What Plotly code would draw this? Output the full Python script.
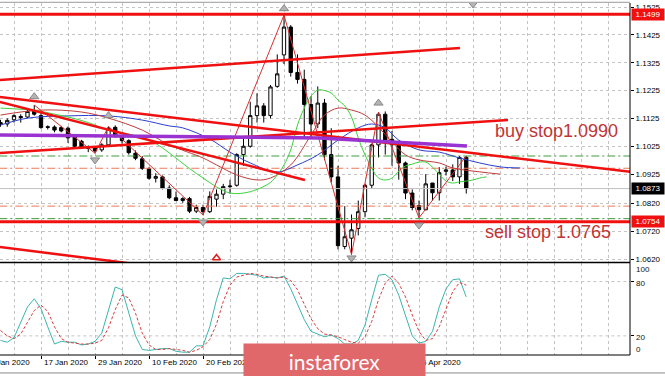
import plotly.graph_objects as go
import pandas as pd

# ---------------- data ----------------
dates = pd.bdate_range("2020-01-09", "2020-04-15")
bar_idx = list(range(len(dates)))

opens = [1.1110, 1.1105, 1.1120, 1.1132, 1.1130, 1.1152, 1.1135, 1.1095, 1.1094, 1.1092,
         1.1090, 1.1060, 1.1043, 1.1022, 1.1020, 1.1012, 1.1030, 1.1093, 1.1062, 1.1045,
         1.1000, 1.0980, 1.0945, 1.0910, 1.0915, 1.0875, 1.0840, 1.0830, 1.0837, 1.0792,
         1.0805, 1.0790, 1.0835, 1.0853, 1.0880, 1.0885, 1.0995, 1.1025, 1.1135, 1.1170,
         1.1135, 1.1240, 1.1353, 1.1453, 1.1290, 1.1265, 1.1175, 1.1105, 1.1180, 1.0995,
         1.0915, 1.0665, 1.0695, 1.0730, 1.0790, 1.0885, 1.1030, 1.1140, 1.1050, 1.1030,
         1.0965, 1.0857, 1.0812, 1.0797, 1.0893, 1.0858, 1.0935, 1.0940, 1.0915, 1.0985]
highs = [1.1120, 1.1125, 1.1140, 1.1140, 1.1160, 1.1173, 1.1145, 1.1100, 1.1100, 1.1098,
         1.1096, 1.1065, 1.1048, 1.1028, 1.1025, 1.1036, 1.1096, 1.1100, 1.1065, 1.1050,
         1.1010, 1.0990, 1.0950, 1.0928, 1.0920, 1.0885, 1.0862, 1.0842, 1.0843, 1.0815,
         1.0815, 1.0863, 1.0870, 1.0890, 1.0905, 1.1000, 1.1055, 1.1185, 1.1215, 1.1180,
         1.1245, 1.1355, 1.1496, 1.1460, 1.1355, 1.1300, 1.1205, 1.1240, 1.1195, 1.1090,
         1.0955, 1.0810, 1.0780, 1.0830, 1.0890, 1.1035, 1.1148, 1.1150, 1.1080, 1.1045,
         1.0970, 1.0870, 1.0830, 1.0925, 1.0893, 1.0950, 1.0952, 1.0960, 1.0990, 1.0990]
lows = [1.1095, 1.1095, 1.1110, 1.1110, 1.1125, 1.1135, 1.1088, 1.1085, 1.1075, 1.1075,
        1.1037, 1.1020, 1.1017, 1.1004, 1.1000, 1.1005, 1.1025, 1.1055, 1.1035, 1.0995,
        1.0975, 1.0940, 1.0905, 1.0895, 1.0870, 1.0835, 1.0828, 1.0822, 1.0785, 1.0785,
        1.0778, 1.0785, 1.0808, 1.0835, 1.0855, 1.0880, 1.0955, 1.1020, 1.1110, 1.1110,
        1.1125, 1.1235, 1.1320, 1.1275, 1.1250, 1.1055, 1.1055, 1.1090, 1.0975, 1.0895,
        1.0655, 1.0655, 1.0636, 1.0705, 1.0770, 1.0875, 1.0985, 1.0995, 1.0955, 1.0905,
        1.0835, 1.0795, 1.0768, 1.0795, 1.0830, 1.0830, 1.0920, 1.0900, 1.0890, 1.0855]
closes = [1.1105, 1.1118, 1.1135, 1.1128, 1.1150, 1.1140, 1.1092, 1.1093, 1.1083, 1.1080,
          1.1055, 1.1025, 1.1022, 1.1018, 1.1008, 1.1030, 1.1090, 1.1065, 1.1045, 1.1002,
          1.0982, 1.0945, 1.0910, 1.0916, 1.0875, 1.0840, 1.0830, 1.0837, 1.0792, 1.0805,
          1.0790, 1.0845, 1.0853, 1.0880, 1.0882, 1.0995, 1.1025, 1.1135, 1.1170, 1.1135,
          1.1238, 1.1285, 1.1453, 1.1290, 1.1265, 1.1175, 1.1105, 1.1180, 1.0995, 1.0915,
          1.0668, 1.0700, 1.0725, 1.0790, 1.0885, 1.1030, 1.1140, 1.1045, 1.1030, 1.0965,
          1.0857, 1.0805, 1.0797, 1.0890, 1.0858, 1.0930, 1.0940, 1.0915, 1.0985, 1.0873]

# Alligator-style moving averages (bar index, price)
jaw_x = [0, 4, 10, 16, 21, 25, 27, 31, 34, 37, 41, 44, 47, 50, 53, 55, 57, 59, 62, 65, 68, 71, 74, 77]
jaw_p = [1.1101, 1.1126, 1.1134, 1.1134, 1.1119, 1.1098, 1.1091, 1.1051, 1.1004, 1.0965, 1.0933, 1.0958,
         1.0994, 1.1047, 1.1091, 1.1105, 1.1091, 1.1047, 1.1012, 1.1004, 1.0983, 1.0965, 1.0951, 1.0947]
teeth_x = [0, 6, 12, 16, 21, 25, 30, 32, 35, 38, 40, 43, 46, 48, 50, 52, 54, 56, 58, 60, 62, 65, 67, 71, 74]
teeth_p = [1.1137, 1.1155, 1.1148, 1.1126, 1.1083, 1.1030, 1.0983, 1.0958, 1.0922, 1.0904, 1.0911, 1.0958,
           1.1065, 1.1137, 1.1162, 1.1155, 1.1137, 1.1094, 1.1040, 1.0994, 1.0976, 1.0965, 1.0947, 1.0933, 1.0925]
lips_x = [0, 3, 5, 8, 10, 13, 16, 19, 21, 23, 25, 28, 30, 32, 34, 36, 38, 40, 41, 42,
          43, 44, 45, 46, 47, 48, 49, 50, 51, 52, 53, 54, 55, 56, 57, 58, 59, 60, 61, 62,
          63, 64, 65, 66, 67, 68, 69, 70, 71, 72]
lips_p = [1.1162, 1.1158, 1.1155, 1.1140, 1.1130, 1.1110, 1.1083, 1.1068, 1.1058, 1.1035,
          1.1001, 1.0945, 1.0911, 1.0879, 1.0857, 1.0857, 1.0870, 1.0895, 1.0922, 1.0958,
          1.1012, 1.1101, 1.1162, 1.1205, 1.1227, 1.1225, 1.1216, 1.1191, 1.1170, 1.1130,
          1.1055, 1.0994, 1.0947, 1.0911, 1.0904, 1.0911, 1.0936, 1.0954, 1.0961, 1.0968,
          1.0968, 1.0950, 1.0925, 1.0900, 1.0893, 1.0897, 1.0900, 1.0904, 1.0911, 1.0915]

# ZigZag
zz_x = [5, 14, 16, 30, 42, 52, 56, 62, 69]
zz_p = [1.1173, 1.1000, 1.1096, 1.0778, 1.1496, 1.0636, 1.1148, 1.0768, 1.0990]

# Fractals
frac_up_x = [5, 16, 42, 56]
frac_up_p = [1.1203, 1.1135, 1.1519, 1.1180]
frac_dn_x = [14, 30, 52, 62]
frac_dn_p = [1.0976, 1.0753, 1.0624, 1.0742]

# Trend lines (bar index, price)
rise_top_x = [-0.1, 68.07]
rise_top_p = [1.1263, 1.1378]
rise_mid_x = [-0.1, 75.19]
rise_mid_p = [1.1001, 1.1119]
fall_long_x = [-0.1, 93.3]
fall_long_p = [1.1202, 1.0933]
fall_steep_x = [-0.1, 45.1]
fall_steep_p = [1.1184, 1.0904]
fall_low_x = [-0.1, 20.7]
fall_low_p = [1.0663, 1.0600]
purple_x = [-0.1, 32.5, 47.3, 55.2, 65.1, 69.1]
purple_p = [1.1065, 1.1058, 1.1055, 1.1044, 1.1030, 1.1026]

# Horizontal levels
red_levels = [1.1499, 1.0754]
green_levels = [1.0990, 1.0765]
orange_levels = [1.0946, 1.0810]
last_price = 1.0873

# Stochastic
stoch_k = [15, 13, 18, 35, 52, 61, 50, 30, 11, 14, 13, 13, 10, 11, 14, 23, 50, 74, 71, 45,
           20, 5, 4, 5, 6, 6, 3, 2, 2, 9, 9, 30, 60, 84, 83, 89, 89, 88, 87, 84,
           85, 84, 86, 72, 55, 38, 25, 22, 19, 21, 17, 11, 11, 15, 32, 60, 87, 88, 82, 65,
           43, 20, 12, 14, 25, 52, 72, 82, 83, 63]
stoch_d = [26, 20, 17, 22, 35, 48, 54, 47, 30, 17, 13, 12, 11, 11, 12, 15, 29, 49, 65, 62,
           45, 23, 10, 5, 5, 6, 5, 4, 2, 4, 8, 16, 33, 58, 76, 85, 87, 89, 88, 86,
           85, 84, 85, 81, 71, 55, 39, 28, 22, 21, 19, 16, 13, 12, 19, 36, 60, 78, 86, 78,
           63, 43, 25, 15, 17, 30, 50, 69, 79, 76]
stoch_levels = [80, 20]
stoch_scale_text = ["100", "80", "20", "0"]

price_ticks = [1.1525, 1.1425, 1.1325, 1.1225, 1.1125, 1.1025, 1.0925, 1.0820, 1.0720, 1.0620]
price_tick_text = ["1.1525", "1.1425", "1.1325", "1.1225", "1.1125", "1.1025", "1.0925", "1.0820", "1.0720", "1.0620"]
# date labels visible on the chart (the ones in between are covered by the watermark)
date_label_idx = [6, 14, 22, 30, 62]
date_label_text = [f"{dates[i].day} {dates[i].strftime('%b %Y')}" for i in date_label_idx]
first_label_text = "7 Jan 2020"   # two bars before the first visible bar

# ---------------- figure ----------------
X0, X1 = -0.074, 93.26
BAR_PX = 6.75
FULL_X = [X0 - 0.1, X1 + 0.1]
GRID = "#c4c4c4"
FONT = "Liberation Sans"

fig = go.Figure()

def line(x, y, color, width, dash=None, shape="linear", ax="y"):
    fig.add_trace(go.Scatter(x=x, y=y, mode="lines", yaxis=ax, xaxis="x" if ax == "y" else "x2",
                             line=dict(color=color, width=width, dash=dash, shape=shape),
                             hoverinfo="skip", showlegend=False))

# horizontal levels
line(FULL_X, [last_price] * 2, "#c0c0c0", 1)
for lv in green_levels:
    line(FULL_X, [lv] * 2, "#3c9a3c", 1, dash="8px,3px,2px,3px")
for lv in orange_levels:
    line(FULL_X, [lv] * 2, "#ec7a5a", 1, dash="8px,3px,2px,3px")

# candles
fig.add_trace(go.Candlestick(
    x=bar_idx, open=opens, high=highs, low=lows, close=closes,
    increasing=dict(fillcolor="white", line=dict(color="black", width=1)),
    decreasing=dict(fillcolor="black", line=dict(color="black", width=1)),
    whiskerwidth=0, hoverinfo="skip", showlegend=False, xaxis="x", yaxis="y"))

# alligator
line(jaw_x, jaw_p, "#2a3fd0", 1, shape="spline")
line(teeth_x, teeth_p, "#c03c3c", 1, shape="spline")
line(lips_x, lips_p, "#3ad23a", 1, shape="spline")

# zigzag
line(zz_x, zz_p, "#d83030", 1)

# trend lines
for xs, ps in [(rise_top_x, rise_top_p), (rise_mid_x, rise_mid_p), (fall_long_x, fall_long_p),
               (fall_steep_x, fall_steep_p), (fall_low_x, fall_low_p)]:
    line(xs, ps, "#f01010", 2.5)
line(purple_x, purple_p, "#9a32d2", 3.5)
for lv in red_levels:
    line(FULL_X, [lv] * 2, "#f01010", 3)

# fractal markers
fig.add_trace(go.Scatter(x=frac_up_x, y=frac_up_p, mode="markers", xaxis="x", yaxis="y",
                         marker=dict(symbol="triangle-up", size=8, color="#b4b4b4", line=dict(color="#888888", width=1)),
                         hoverinfo="skip", showlegend=False))
fig.add_trace(go.Scatter(x=frac_dn_x + [70], y=frac_dn_p + [1.1536], mode="markers", xaxis="x", yaxis="y",
                         marker=dict(symbol="triangle-down", size=8, color="#b4b4b4", line=dict(color="#888888", width=1)),
                         hoverinfo="skip", showlegend=False))
fig.add_trace(go.Scatter(x=[32], y=[1.0624], mode="markers", xaxis="x", yaxis="y",
                         marker=dict(symbol="triangle-up-open", size=7, color="#e02020", line=dict(width=1.5)),
                         hoverinfo="skip", showlegend=False))

# stochastic levels + lines
for lv in stoch_levels:
    line(FULL_X, [lv] * 2, GRID, 1, dash="3px,3px", ax="y2")
fig.add_trace(go.Scatter(x=bar_idx, y=stoch_k, mode="lines", xaxis="x2", yaxis="y2",
                         line=dict(color="#3cb4b0", width=1), hoverinfo="skip", showlegend=False))
fig.add_trace(go.Scatter(x=bar_idx, y=stoch_d, mode="lines", xaxis="x2", yaxis="y2",
                         line=dict(color="#d83c3c", width=1, dash="3px,2px"), hoverinfo="skip", showlegend=False))

grid_pos = list(range(2, 94, 4))
MAIN_BOT = (355 - 262) / 352
STO_TOP = (355 - 263) / 352
# where MT4 prints its stochastic scale captions (screen rows 269, 283, 337, 349)
stoch_caption_y = [(355 - r) / 352 for r in (269, 283, 337, 349)]

fig.update_layout(
    width=665, height=376, margin=dict(l=0, r=35, t=3, b=21),
    paper_bgcolor="white", plot_bgcolor="white", showlegend=False,
    font=dict(family=FONT, size=8, color="black"),
    xaxis=dict(domain=[0, 1], anchor="y", range=[X0, X1], tickvals=grid_pos, showticklabels=False,
               showgrid=True, gridcolor=GRID, griddash="3px,3px", gridwidth=1, zeroline=False,
               ticks="", rangeslider=dict(visible=False)),
    yaxis=dict(domain=[MAIN_BOT, 1], anchor="x", range=[1.06094, 1.15394], side="right",
               tickvals=price_ticks, ticktext=price_tick_text, showgrid=True, gridcolor=GRID,
               griddash="3px,3px", zeroline=False, ticks="outside", ticklen=3, tickcolor="black",
               tickfont=dict(size=8, family=FONT, color="black")),
    xaxis2=dict(domain=[0, 1], anchor="y2", matches="x", range=[X0, X1],
                tickvals=date_label_idx, showticklabels=False, ticks="outside", ticklen=3,
                tickcolor="black", showgrid=True, gridcolor=GRID, griddash="3px,3px", zeroline=False,
                minor=dict(tickvals=[g for g in grid_pos if g not in date_label_idx], showgrid=True,
                           gridcolor=GRID, griddash="3px,3px", ticks="")),
    yaxis2=dict(domain=[0, STO_TOP], anchor="x2", range=[-1.1, 100.5], side="right",
                tickvals=stoch_levels, showticklabels=False, showgrid=False,
                zeroline=False, ticks="outside", ticklen=3, tickcolor="black"),
)

shapes = [
    dict(type="line", xref="paper", yref="paper", x0=1, x1=1, y0=0, y1=1, line=dict(color="black", width=1)),
    dict(type="line", xref="paper", yref="paper", x0=0, x1=1, y0=(MAIN_BOT + STO_TOP) / 2, y1=(MAIN_BOT + STO_TOP) / 2,
         line=dict(color="black", width=1.5)),
    dict(type="line", xref="paper", yref="paper", x0=0, x1=1, y0=0, y1=0, line=dict(color="black", width=1)),
    dict(type="line", xref="paper", yref="paper", x0=0, x1=1, y0=1.002, y1=1.002, line=dict(color="#9a9a9a", width=1)),
    dict(type="line", xref="paper", yref="paper", x0=0, x1=665 / 630, y0=-0.051, y1=-0.051,
         line=dict(color="#8a8a8a", width=1)),
]
fig.update_layout(shapes=shapes)

ann = []
# date labels (left-aligned at their bar, MT4 style)
ann.append(dict(x=0, xref="x", y=-0.0227, yref="paper", text=first_label_text, showarrow=False,
                xanchor="left", yanchor="middle", xshift=1 - 2 * BAR_PX, font=dict(size=8, family=FONT, color="black")))
for i, t in zip(date_label_idx, date_label_text):
    ann.append(dict(x=i, xref="x", y=-0.0227, yref="paper", text=t, showarrow=False,
                    xanchor="left", yanchor="middle", xshift=1, font=dict(size=8, family=FONT, color="black")))
# stochastic scale captions
for yp, t in zip(stoch_caption_y, stoch_scale_text):
    ann.append(dict(x=1.0, xref="paper", y=yp, yref="paper", text=t, showarrow=False,
                    xanchor="left", yanchor="middle", xshift=4,
                    font=dict(size=8, family=FONT, color="#111111")))
# price tags
for v, bg in [(red_levels[0], "#f01010"), (last_price, "#000000"), (red_levels[1], "#f01010")]:
    ann.append(dict(x=1, xref="paper", y=v, yref="y", text=f"{v:.4f}", showarrow=False, xanchor="left",
                    xshift=1, bgcolor=bg, borderpad=1, width=30,
                    font=dict(size=8, family=FONT, color="white")))
# order texts
ann.append(dict(x=72.96, xref="x", y=1.1080, yref="y", text=f"buy stop{green_levels[0]:.4f}", showarrow=False,
                xanchor="left", yanchor="middle", font=dict(size=18, family=FONT, color="#c03434")))
ann.append(dict(x=71.48, xref="x", y=1.0717, yref="y", text=f"sell stop {green_levels[1]:.4f}", showarrow=False,
                xanchor="left", yanchor="middle", font=dict(size=18, family=FONT, color="#c03434")))
# watermark
ann.append(dict(x=334.5 / 630, xref="paper", y=-0.017, yref="paper", text="instaforex", showarrow=False,
                xanchor="center", yanchor="middle", width=179, height=32, bgcolor="#e0676a",
                font=dict(size=21, family="Lato", color="white")))
fig.update_layout(annotations=ann)

fig.write_html("out.html")
